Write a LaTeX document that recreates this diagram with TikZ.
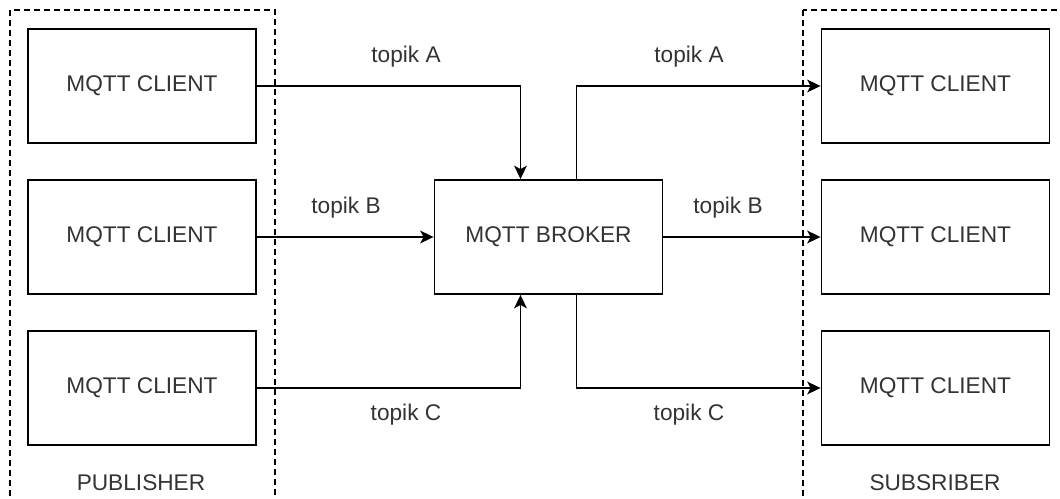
\documentclass[tikz,border=0pt]{standalone}
\usepackage{fontspec}
\setmainfont{Liberation Sans}
\usetikzlibrary{arrows.meta}
\begin{document}
\begin{tikzpicture}[x=0.75pt,y=-0.75pt,
  every node/.style={font=\fontsize{17}{20}\selectfont, text=black!80},
  box/.style={draw=black, line width=1.4pt, fill=white, minimum width=171pt, minimum height=85.5pt, inner sep=0pt},
  group/.style={draw=black, line width=1.2pt, dash pattern=on 4.5pt off 3pt},
  link/.style={draw=black, line width=1.4pt, -{Stealth[length=10pt,width=9.5pt,inset=2.5pt]}},
  lbl/.style={inner sep=0pt}]
  \useasboundingbox (0,0) rectangle (1060,499);
  \clip (0,0) rectangle (1060,499);
  % dashed groups
  \draw[group] (10,10) rectangle (275,520);
  \draw[group] (803,10) rectangle (1080,520);
  \node[lbl] (pub) at (141,483) {PUBLISHER};
  \node[lbl] (sub) at (935,483) {SUBSRIBER};
  % publishers
  \node[box] (p1) at (142,86) {MQTT CLIENT};
  \node[box] (p2) at (142,237) {MQTT CLIENT};
  \node[box] (p3) at (142,388) {MQTT CLIENT};
  % broker
  \node[box] (br) at (548.5,237) {MQTT BROKER};
  % subscribers
  \node[box] (s1) at (935.5,86) {MQTT CLIENT};
  \node[box] (s2) at (935.5,237) {MQTT CLIENT};
  \node[box] (s3) at (935.5,388) {MQTT CLIENT};
  % publishing
  \draw[link] (p1.east) -| ([xshift=-21pt]br.north);
  \draw[link] (p2.east) -- (br.west);
  \draw[link] (p3.east) -| ([xshift=-21pt]br.south);
  % delivery
  \draw[link] ([xshift=21pt]br.north) |- (s1.west);
  \draw[link] (br.east) -- (s2.west);
  \draw[link] ([xshift=21pt]br.south) |- (s3.west);
  % topic labels
  \node[lbl] (la1) at (406,57) {topik A};
  \node[lbl] (la2) at (689,57) {topik A};
  \node[lbl] (lb1) at (346,208) {topik B};
  \node[lbl] (lb2) at (728,208) {topik B};
  \node[lbl] (lc1) at (406,415) {topik C};
  \node[lbl] (lc2) at (689,415) {topik C};
\end{tikzpicture}
\end{document}
